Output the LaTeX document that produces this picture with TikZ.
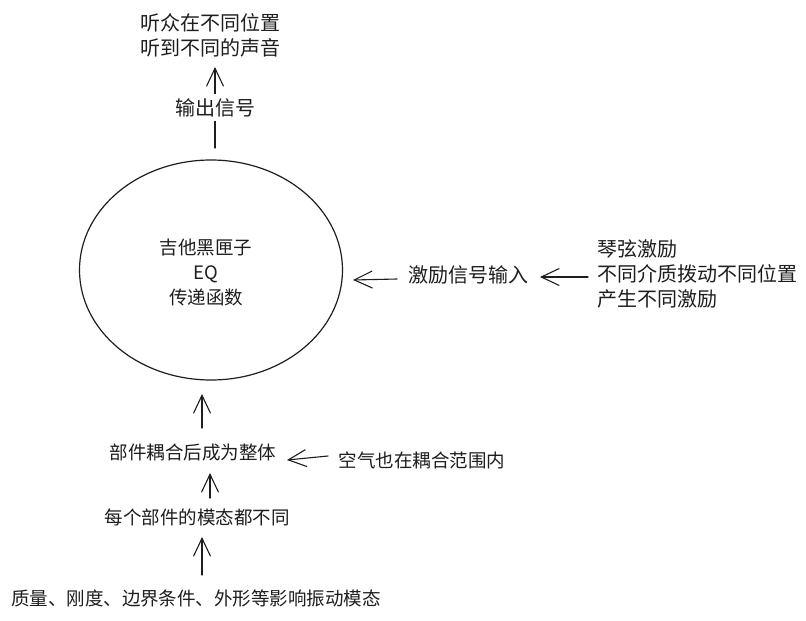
\documentclass[tikz,border=0pt]{standalone}
\usepackage{fontspec}
\setmainfont{Noto Sans CJK SC}
\usetikzlibrary{arrows.meta,shapes.geometric}
\definecolor{ink}{HTML}{1E1E1E}
\tikzset{
 lbl/.style={font=\fontsize{20}{25}\selectfont, align=center, inner sep=1pt, text=ink},
 lbls/.style={font=\fontsize{18.5}{25}\selectfont, align=center, inner sep=1pt, text=ink},
 arr/.style={draw=ink, line width=1.1pt, line cap=round, -{Straight Barb[length=18pt,width=17pt,line width=1.1pt]}},
 midlbl/.style={lbl, fill=white, inner sep=4pt},
}
\begin{document}
\begin{tikzpicture}[x=1pt,y=-1pt]
\useasboundingbox[fill=white] (0,0) rectangle (806,621);
% central ellipse
\node[draw=ink, ellipse, line width=1.2pt, minimum width=263pt, minimum height=220pt, inner sep=0pt] (bb) at (211,270) {};
\node[lbls] (bbtxt) at (206,272) {吉他黑匣子\\EQ\\传递函数};
% top
\node[lbl] (top) at (210,35) {听众在不同位置\\听到不同的声音};
\coordinate (t1) at (215,148);
\coordinate (t2) at (215,67);
\draw[arr] (t1) -- node[midlbl] (out) {输出信号} (t2);
% right
\node[lbl, anchor=west, align=left] (exc) at (596,274) {琴弦激励\\不同介质拨动不同位置\\产生不同激励};
\node[lbl] (in) at (468,275) {激励信号输入};
\coordinate (r1) at (588,277);
\coordinate (r2) at (540,277);
\draw[arr] (r1) -- (r2);
\coordinate (r3) at (397,279);
\coordinate (r4) at (353,280);
\draw[arr] (r3) -- (r4);
% bottom chain
\node[lbls] (cpl) at (193,452) {部件耦合后成为整体};
\node[lbls] (air) at (422,460) {空气也在耦合范围内};
\node[lbls] (mode) at (197,517) {每个部件的模态都不同};
\node[lbls] (fac) at (196,598) {质量、刚度、边界条件、外形等影响振动模态};
\coordinate (b1) at (202,428);
\coordinate (b2) at (202,394);
\draw[arr] (b1) -- (b2);
\coordinate (a1) at (328,456);
\coordinate (a2) at (287,460);
\draw[arr] (a1) -- (a2);
\coordinate (m1) at (210,498);
\coordinate (m2) at (210,473);
\draw[arr] (m1) -- (m2);
\coordinate (f1) at (202,575);
\coordinate (f2) at (202,537);
\draw[arr] (f1) -- (f2);
\end{tikzpicture}
\end{document}
